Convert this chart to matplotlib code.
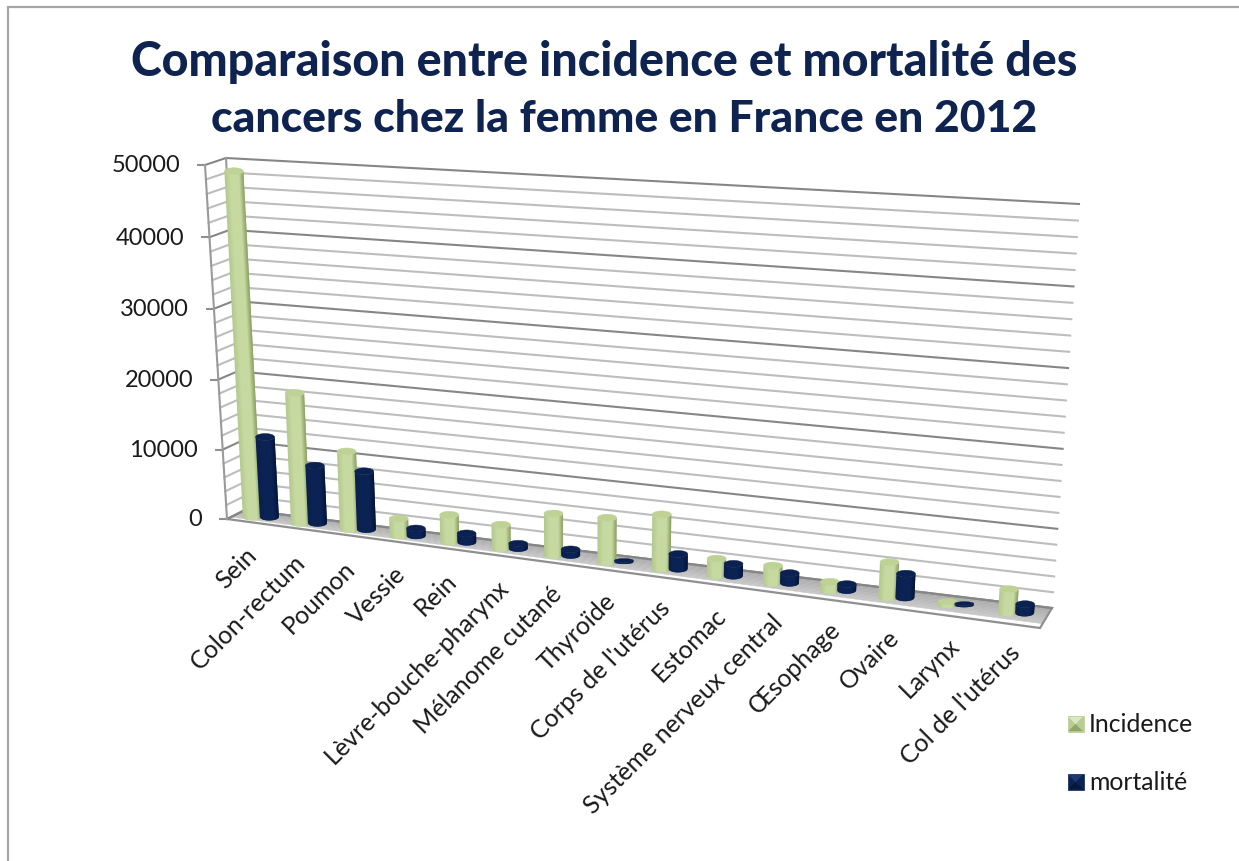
import numpy as np
import matplotlib
matplotlib.use("Agg")
import matplotlib.pyplot as plt
from matplotlib.patches import Polygon

categories = ["Sein", "Colon-rectum", "Poumon", "Vessie", "Rein", "Lèvre-bouche-pharynx",
              "Mélanome cutané", "Thyroïde", "Corps de l'utérus", "Estomac",
              "Système nerveux central", "Œsophage", "Ovaire", "Larynx", "Col de l'utérus"]
incidence = [48800, 18500, 11000, 2400, 3800, 3300, 5700, 6000, 7300, 2300, 2300, 1100, 4600, 500, 3000]
mortalite = [11500, 8200, 8200, 1000, 1200, 700, 800, 200, 2000, 1600, 1300, 800, 3100, 200, 1100]
y_max = 50000
minor_step = 2000

title_1 = "Comparaison entre incidence et mortalité des"
title_2 = "cancers chez la femme en France en 2012"

# box corners in pixels (front/back, left/right, floor/top)
FL, FR, BL, BR = map(np.array, [(227., 519.), (1040., 628.), (245., 510.), (1052., 608.)])
TFL, TFR, TBL, TBR = map(np.array, [(205., 165.), (1066., 219.), (226., 158.), (1079., 204.)])
K_U = 0.877
K_Z = 0.975
BAR_DEPTH = 0.56


def warp(t, k):
    return t * k / (1 + t * (k - 1))


def project(u, w, value):
    # category position u, depth w, value -> pixel position
    u = warp(u, K_U)
    z = warp(value / y_max, K_Z)
    floor = (FL + (FR - FL) * u) * (1 - w) + (BL + (BR - BL) * u) * w
    top = (TFL + (TFR - TFL) * u) * (1 - w) + (TBL + (TBR - TBL) * u) * w
    return floor + (top - floor) * z


def lerp_color(a, b, t):
    a = np.array(matplotlib.colors.to_rgb(a))
    b = np.array(matplotlib.colors.to_rgb(b))
    return a + (b - a) * t


def draw_cylinder(ax, cx, value, u, shades, cap, half=9.5, ry=3.5, zorder=5):
    base = project(u, BAR_DEPTH, 0) + np.array([cx, 0])
    top = project(u, BAR_DEPTH, value) + np.array([cx, 0])
    ry = min(ry, 1.5 + abs(base[1] - top[1]) / 3)
    n = 18
    edges = np.linspace(-1, 1, n + 1)
    for i in range(n):
        # strips overlap a little so no seam shows between them
        t0, t1 = edges[i], edges[min(i + 2, n)]
        ts = np.linspace(t0, t1, 4)
        arc = ry * np.sqrt(1 - ts ** 2)
        low = [(base[0] + t * half, base[1] + a) for t, a in zip(ts, arc)]
        upp = [(top[0] + t * half, top[1] + a) for t, a in zip(ts, arc)]
        pos = (t0 + edges[i + 1] + 2) / 4
        if pos < 0.3:
            c = lerp_color(shades[0], shades[1], pos / 0.3)
        elif pos < 0.75:
            c = lerp_color(shades[1], shades[1], 0)
        else:
            c = lerp_color(shades[1], shades[2], (pos - 0.75) / 0.25)
        ax.add_patch(Polygon(low + upp[::-1], closed=True, facecolor=c, edgecolor="none", zorder=zorder))
    th = np.linspace(0, 2 * np.pi, 40)
    ax.fill(top[0] + half * np.cos(th), top[1] + ry * np.sin(th), color=cap, lw=0.3, zorder=zorder + 0.5)


plt.rcParams["font.family"] = ["Lato", "DejaVu Sans"]
fig = plt.figure(figsize=(12.39, 8.61), dpi=100)
ax = fig.add_axes([0, 0, 1, 1])
ax.set_xlim(0, 1239)
ax.set_ylim(861, 0)
ax.axis("off")

# outer frame, only top and left show in the picture
ax.plot([7.5, 7.5, 1239], [861, 7, 7], color="#a6a6a6", lw=1.6, solid_joinstyle="miter")

ax.text(604.5, 62, title_1, ha="center", va="center", fontsize=33.5, fontweight="black", color="#0f2350")
ax.text(624.5, 119, title_2, ha="center", va="center", fontsize=32, fontweight="black", color="#0f2350")

# floor: shaded at the back, white rim at the front
n_strips = 14
for i in range(n_strips):
    w0, w1 = i / n_strips, (i + 1) / n_strips
    shade = "#ffffff" if w0 < 0.2 else lerp_color("#d0d0d0", "#a8a8a8", w0)
    ax.add_patch(Polygon([project(0, w0, 0), project(1, w0, 0), project(1, w1, 0), project(0, w1, 0)],
                         closed=True, facecolor=shade, edgecolor=shade, lw=0.3, zorder=1))
ax.add_patch(Polygon([project(0, 0, 0), project(1, 0, 0), project(1, 1, 0), project(0, 1, 0)],
                     closed=True, fill=False, edgecolor="#8f8f8f", lw=1.6, zorder=1.5))

# gridlines on the left and back walls
for value in range(0, y_max + 1, minor_step):
    major = value % 10000 == 0
    col = "#868686" if major else "#bdbdbd"
    pts = np.array([project(0, 0, value), project(0, 1, value), project(1, 1, value)])
    ax.plot(pts[:, 0], pts[:, 1], color=col, lw=1.5, zorder=2, solid_joinstyle="miter")
    if major:
        p = project(0, 0, value)
        ax.plot([p[0] - 7, p[0]], [p[1], p[1]], color="#8f8f8f", lw=1.5, zorder=2)
        ax.text(p[0] - 25, p[1] + 1, str(value), ha="right", va="center", fontsize=17, color="#1a1a1a")

# axis edges
for a, b in [((0, 0, 0), (0, 0, y_max)), ((0, 1, 0), (0, 1, y_max))]:
    pa, pb = project(*a), project(*b)
    ax.plot([pa[0], pb[0]], [pa[1], pb[1]], color="#9a9a9a", lw=1.5, zorder=2)

# bars
green = ("#b2c98c", "#c6d9a0", "#8a9f62")
navy = ("#0a1f4c", "#0b2254", "#04153a")
for i, name in enumerate(categories):
    u = (i + 0.5) / len(categories)
    draw_cylinder(ax, -8.5, incidence[i], u, green, "#bed296")
    draw_cylinder(ax, 8.5, mortalite[i], u, navy, "#0b2150", zorder=6)
    anchor = project(u, 0, 0)
    ax.text(anchor[0] - 6 + 5 * u, anchor[1] + 22 - 5 * u, name, rotation=45, rotation_mode="anchor",
            ha="right", va="top", fontsize=18, color="#1a1a1a", zorder=7)

# legend
legend_rows = [(724, "Incidence", "#dbe8c4", "#b9cd93", "#8fa56a"),
               (782, "mortalité", "#1e3a70", "#0b2254", "#06163c")]
for y, label, lit, mid, dark in legend_rows:
    x0, x1, y0, y1 = 1067.5, 1083.5, y - 8, y + 8
    c = (1075.5, y)
    ax.add_patch(Polygon([(x0, y0), (x1, y0), (x1, y1), (x0, y1)], closed=True, facecolor=mid, edgecolor=mid, lw=0.5, zorder=4))
    ax.add_patch(Polygon([(x0 + 1, y0 + 1), (x1 - 1, y0 + 1), c], closed=True, facecolor=lit, edgecolor="none", zorder=5))
    ax.add_patch(Polygon([(x0 + 1, y1 - 1), (x1 - 1, y1 - 1), c], closed=True, facecolor=dark, edgecolor="none", zorder=5))
    ax.text(1089, y, label, ha="left", va="center", fontsize=17.8, color="#1a1a1a")

fig.savefig("out.png", dpi=100)
